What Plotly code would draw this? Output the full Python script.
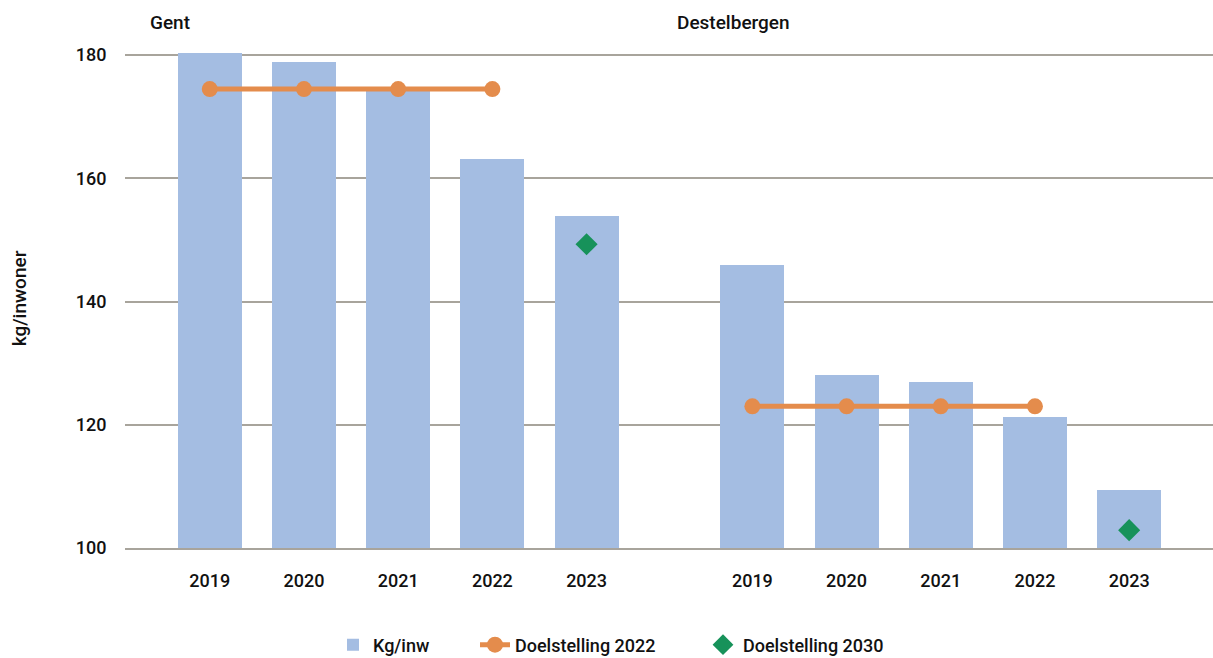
import plotly.graph_objects as go

groups = ["Gent", "Destelbergen"]
years = ["2019", "2020", "2021", "2022", "2023"]
kg_gent = [180.3, 178.9, 174.2, 163.1, 153.9]
kg_destel = [145.9, 128.1, 126.9, 121.3, 109.4]
target2022_gent = [174.5, 174.5, 174.5, 174.5, None]
target2022_destel = [123.0, 123.0, 123.0, 123.0, None]
target2030_gent = [None, None, None, None, 149.3]
target2030_destel = [None, None, None, None, 102.9]

group_offset = 5.76
xg = [i for i in range(len(years))]
xd = [i + group_offset for i in range(len(years))]

FONT = "Roboto"
BAR = "#A4BDE2"
ORANGE = "#E48C4C"
GREEN = "#17925A"
GRID = "#A8A49C"
TXT = "#111111"

def f(size):
    return dict(family=FONT, size=size, color=TXT, weight=500)

fig = go.Figure()
fig.add_trace(go.Bar(x=xg + xd, y=kg_gent + kg_destel, name="Kg/inw",
                     marker=dict(color=BAR, line=dict(width=0)), width=0.68,
                     legend="legend"))
fig.add_trace(go.Scatter(x=xg, y=target2022_gent, name="Doelstelling 2022", mode="lines+markers",
                         line=dict(color=ORANGE, width=5), marker=dict(size=16, color=ORANGE),
                         legendgroup="d22", legend="legend2"))
fig.add_trace(go.Scatter(x=xd, y=target2022_destel, name="Doelstelling 2022", mode="lines+markers",
                         line=dict(color=ORANGE, width=5), marker=dict(size=16, color=ORANGE),
                         legendgroup="d22", showlegend=False, legend="legend2"))
fig.add_trace(go.Scatter(x=xg + xd, y=target2030_gent + target2030_destel, name="Doelstelling 2030",
                         mode="markers", marker=dict(symbol="diamond", size=17, color=GREEN),
                         legend="legend3"))

fig.add_annotation(x=-0.42, y=1.0, xref="x", yref="paper", yshift=40, text="Gent",
                   showarrow=False, font=f(19))
fig.add_annotation(x=5.56, y=1.0, xref="x", yref="paper", yshift=40, text="Destelbergen",
                   showarrow=False, font=f(19))

legend_y = 1 - 645 / 658

def leg(px):
    return dict(xref="container", yref="container", x=px / 1213, xanchor="left",
                y=legend_y, yanchor="middle", orientation="h", font=f(18),
                bgcolor="rgba(0,0,0,0)", borderwidth=0)

fig.update_layout(
    width=1213, height=658,
    margin=dict(l=125, r=0, t=49, b=110),
    plot_bgcolor="white", paper_bgcolor="white",
    font=f(18),
    bargap=0,
    showlegend=True,
    legend=leg(333),
    legend2=leg(475),
    legend3=leg(703),
    xaxis=dict(range=[-0.9, 10.65], tickmode="array", tickvals=xg + xd, ticktext=years + years,
               showgrid=False, zeroline=False, showline=True, linecolor=GRID, linewidth=2,
               ticks="outside", ticklen=15, tickcolor="rgba(0,0,0,0)",
               tickfont=f(18)),
    yaxis=dict(range=[100, 181], tickvals=[100, 120, 140, 160, 180],
               showgrid=True, gridcolor=GRID, gridwidth=2, zeroline=False, showline=False,
               ticks="outside", ticklen=14, tickcolor="rgba(0,0,0,0)",
               tickfont=f(18),
               title=dict(text="kg/inwoner", font=f(19), standoff=44)),
)

fig.write_html("out.html", config={"displayModeBar": False},
               post_script="document.body.style.margin='0px';document.body.style.overflow='hidden';document.documentElement.style.overflow='hidden';")
